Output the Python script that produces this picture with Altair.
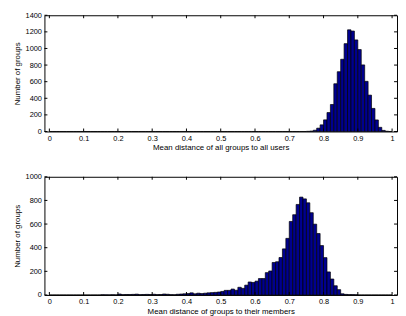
import altair as alt
import pandas as pd

# bin starts 0.00 .. 0.99 (bin width 0.01)
bin_starts = [round(i * 0.01, 2) for i in range(100)]

# Top histogram: mean distance of all groups to all users
top_counts = [0] * 75 + [
    2, 5, 15, 40, 80, 140, 228, 325, 575, 720,
    870, 1058, 1225, 1210, 1103, 987, 802, 604, 438, 278,
    139, 50, 13, 3, 0,
]

# Bottom histogram: mean distance of groups to their members
bottom_counts = [0] * 15 + [
    2, 1, 1, 2, 1,            # 0.15-0.19
    8, 3, 4, 4, 5,            # 0.20-0.24
    7, 3, 4, 5, 4,            # 0.25-0.29
    6, 3, 4, 8, 6,            # 0.30-0.34
    3, 2, 6, 8, 10,           # 0.35-0.39
    12, 18, 10, 15, 12,       # 0.40-0.44
    15, 18, 20, 22, 25,       # 0.45-0.49
    30, 39, 39, 50, 40,       # 0.50-0.54
    65, 56, 83, 110, 106,     # 0.55-0.59
    117, 139, 139, 189, 203,  # 0.60-0.64
    275, 281, 317, 390, 479,  # 0.65-0.69
    622, 679, 766, 828, 813,  # 0.70-0.74
    780, 696, 599, 520, 418,  # 0.75-0.79
    316, 195, 135, 78, 45,    # 0.80-0.84
    10, 5, 3, 3, 2,           # 0.85-0.89
    0, 0, 0, 0, 0, 0, 0, 0, 0, 0,
]

x_ticks = [round(i * 0.1, 1) for i in range(11)]
top_y_ticks = list(range(0, 1401, 200))
bottom_y_ticks = list(range(0, 1001, 200))

x_title_top = "Mean distance of all groups to all users"
x_title_bottom = "Mean distance of groups to their members"
y_title = "Number of groups"

W = 358
FILL = "#00008F"
TICK = 3


def panel(counts, ymax, yticks, xtitle, H):
    df = pd.DataFrame({
        "start": bin_starts,
        "end": [round(b + 0.01, 2) for b in bin_starts],
        "count": counts,
    })
    xs = alt.Scale(domain=[0, 1], nice=False, zero=False)
    ys = alt.Scale(domain=[0, ymax], nice=False)
    xaxis = alt.Axis(values=x_ticks, format="~g", title=xtitle,
                     ticks=False, grid=False, labelPadding=3,
                     titlePadding=2, domain=False)
    yaxis = alt.Axis(values=yticks, format="d", title=y_title,
                     ticks=False, grid=False, labelPadding=3,
                     titlePadding=4, domain=False)
    bars = alt.Chart(df).mark_bar(
        fill=FILL, stroke="black", strokeWidth=0.7, opacity=1,
        orient="vertical"
    ).encode(
        x=alt.X("start:Q", scale=xs, axis=xaxis),
        x2="end:Q",
        y=alt.Y("count:Q", scale=ys, axis=yaxis),
        y2=alt.datum(0),
    )
    xt = pd.DataFrame({"start": x_ticks})
    yt = pd.DataFrame({"count": yticks})
    tick_style = dict(color="black", strokeWidth=1)
    xb = alt.Chart(xt).mark_rule(**tick_style).encode(
        x=alt.X("start:Q", scale=xs, axis=xaxis),
        y=alt.value(H), y2=alt.value(H - TICK))
    xtop = alt.Chart(xt).mark_rule(**tick_style).encode(
        x=alt.X("start:Q", scale=xs, axis=xaxis),
        y=alt.value(0), y2=alt.value(TICK))
    yl = alt.Chart(yt).mark_rule(**tick_style).encode(
        y=alt.Y("count:Q", scale=ys, axis=yaxis),
        x=alt.value(0), x2=alt.value(TICK))
    yr = alt.Chart(yt).mark_rule(**tick_style).encode(
        y=alt.Y("count:Q", scale=ys, axis=yaxis),
        x=alt.value(W - TICK), x2=alt.value(W))
    return alt.layer(bars, xb, xtop, yl, yr).properties(width=W, height=H)


top = panel(top_counts, 1400, top_y_ticks, x_title_top, 118)
bottom = panel(bottom_counts, 1000, bottom_y_ticks, x_title_bottom, 120)

chart = alt.vconcat(top, bottom, spacing=20).properties(
    padding={"left": 4, "top": 0, "right": 0, "bottom": 0},
    background="white",
).configure_view(
    stroke="black", strokeWidth=1
).configure_axis(
    labelFont="Liberation Sans", titleFont="Liberation Sans",
    labelFontSize=7.5, titleFontSize=8, labelColor="black",
    titleColor="black", titleFontWeight="normal",
)

chart.save("out.html", embed_options={"renderer": "svg", "actions": False})
